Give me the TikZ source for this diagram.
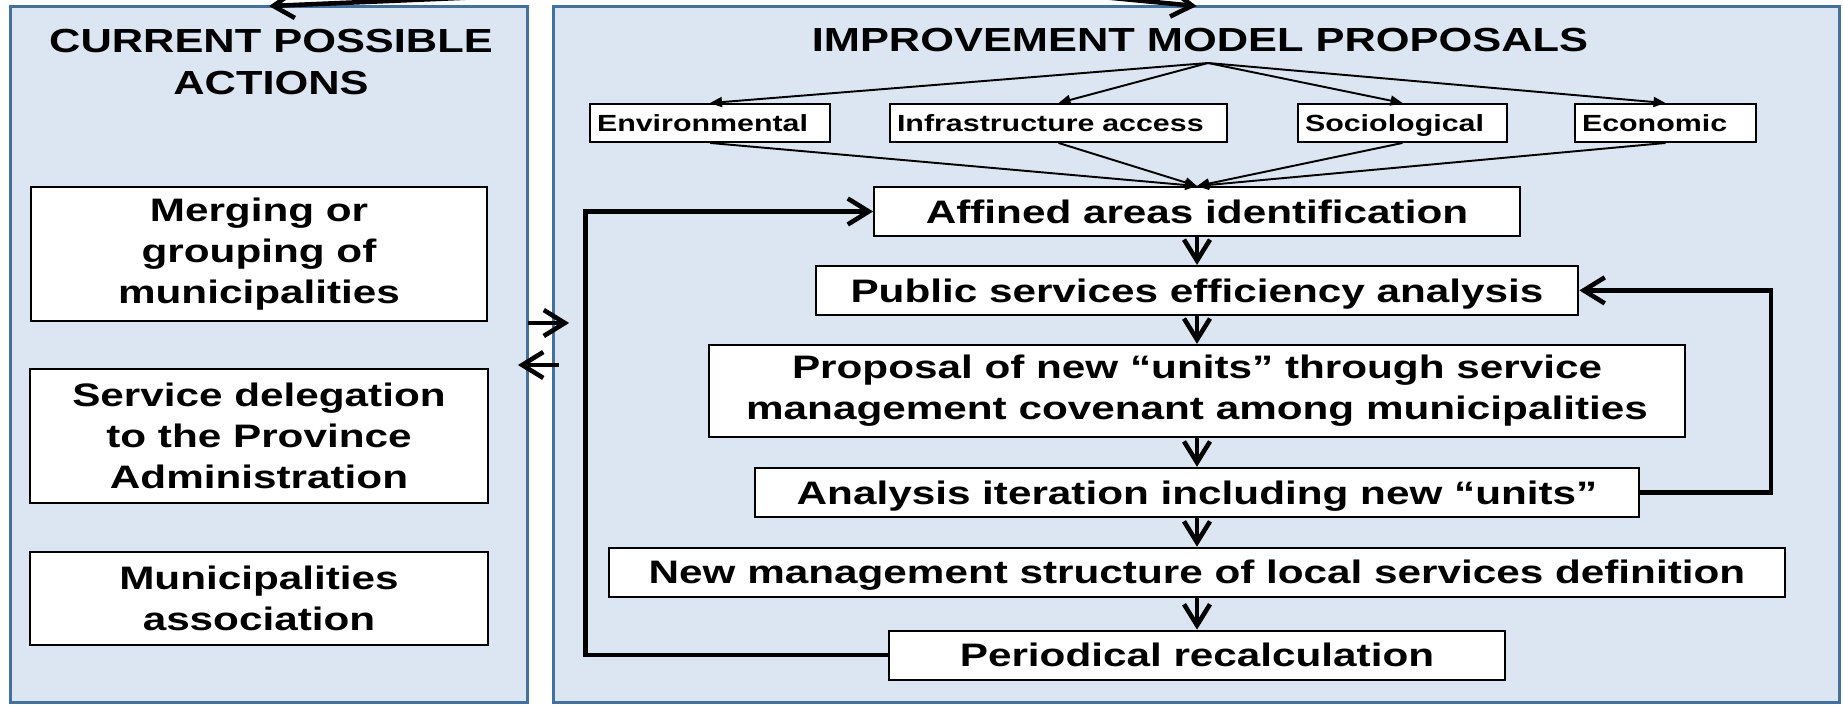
\documentclass[tikz,border=0pt]{standalone}
\usepackage{fontspec}
\setmainfont{Liberation Sans}[FakeStretch=1.3]
\usepackage{xcolor}
\usepackage{tikz}
\usetikzlibrary{arrows.meta, positioning}

\definecolor{panelfill}{HTML}{DCE6F2}
\definecolor{panelline}{HTML}{41719C}

\begin{document}
\begin{tikzpicture}[x=0.02cm, y=-0.02cm,
    panel/.style={draw=panelline, fill=panelfill, line width=1.7pt, rectangle, minimum height=13.94cm, outer sep=0pt},
    heading/.style={align=center, font={\fontsize{19}{23.9}\selectfont\bfseries}},
    stepbox/.style={draw, rectangle, fill=white, line width=1.1pt, align=center, inner sep=2pt, font={\fontsize{18.5}{23.3}\selectfont\bfseries}},
    oneline/.style={minimum height=0.98cm, text height=13.4pt, text depth=0pt},
    factor/.style={draw, rectangle, fill=white, line width=1.1pt, align=left, inner xsep=0.14cm, inner ysep=0pt, minimum height=0.76cm, text height=9.6pt, text depth=0pt, font={\fontsize{13.3}{16}\selectfont\bfseries}},
    flow/.style={-{Straight Barb[length=0.42cm, width=0.52cm]}, line width=2.6pt},
    fan/.style={-{Triangle[length=0.24cm, width=0.2cm]}, line width=1.1pt}]

    \useasboundingbox (0,0) rectangle (1843,705);
    \clip (0,0) rectangle (1843,705);

    % the two panels
    \node[panel, minimum width=10.36cm] (leftpanel) at (269,354.5) {};
    \node[panel, minimum width=25.74cm] (rightpanel) at (1196.5,354.5) {};
    \node[heading] (lefthead) at (271,62) {CURRENT POSSIBLE\\ACTIONS};
    \node[heading] (righthead) at (1200,40) {IMPROVEMENT MODEL PROPOSALS};

    % arrows coming in from above
    \coordinate (fromL) at (600,-8);
    \coordinate (fromR) at (1050,-8);
    \draw[flow] (fromL) -- (leftpanel.north);
    \draw[flow] (fromR) -- (rightpanel.north);

    % current possible actions
    \node[stepbox, minimum width=9.12cm, minimum height=2.68cm] (merge) at (259,254) {Merging or\\grouping of\\municipalities};
    \node[stepbox, minimum width=9.18cm, minimum height=2.68cm, below=0.92cm of merge] (deleg) {Service delegation\\to the Province\\Administration};
    \node[stepbox, minimum width=9.16cm, minimum height=1.86cm, below=0.94cm of deleg] (assoc) {Municipalities\\association};

    % factors
    \coordinate (apex) at (1208,63);
    \node[factor, text width=4.52cm] (env) at (710,123) {Environmental};
    \node[factor, text width=6.46cm] (infra) at (1058.5,123) {Infrastructure access};
    \node[factor, text width=3.9cm] (socio) at (1402.5,123) {Sociological};
    \node[factor, text width=3.34cm] (econ) at (1665.5,123) {Economic};

    % improvement model flow
    \node[stepbox, oneline, minimum width=12.92cm] (affined) at (1197,211.5) {Affined areas identification};
    \node[stepbox, oneline, minimum width=15.26cm, below=0.56cm of affined] (public) {Public services efficiency analysis};
    \node[stepbox, minimum width=19.54cm, minimum height=1.84cm, below=0.56cm of public] (proposal) {Proposal of new “units” through service\\management covenant among municipalities};
    \node[stepbox, oneline, minimum width=17.68cm, below=0.58cm of proposal] (iterate) {Analysis iteration including new “units”};
    \node[stepbox, oneline, minimum width=23.54cm, below=0.58cm of iterate] (newstruct) {New management structure of local services definition};
    \node[stepbox, oneline, minimum width=12.34cm, below=0.64cm of newstruct] (recalc) {Periodical recalculation};

    \foreach \k in {env, infra, socio, econ} {
        \draw[fan] (apex) -- (\k.north);
        \draw[fan] (\k.south) -- (affined.north);
    }

    \draw[flow] (affined) -- (public);
    \draw[flow] (public) -- (proposal);
    \draw[flow] (proposal) -- (iterate);
    \draw[flow] (iterate) -- (newstruct);
    \draw[flow] (newstruct) -- (recalc);

    % feedback loops
    \draw[flow] (recalc.west) -- ++(-302,0) |- (affined.west);
    \draw[flow] (iterate.east) -- ++(131,0) |- (public.east);

    % between the panels
    \draw[flow] ([yshift=0.63cm]leftpanel.east) -- ([yshift=0.63cm, xshift=0.32cm]rightpanel.west);
    \draw[flow] ([yshift=-0.21cm, xshift=0.12cm]rightpanel.west) -- ([yshift=-0.21cm, xshift=-0.2cm]leftpanel.east);
\end{tikzpicture}
\end{document}
